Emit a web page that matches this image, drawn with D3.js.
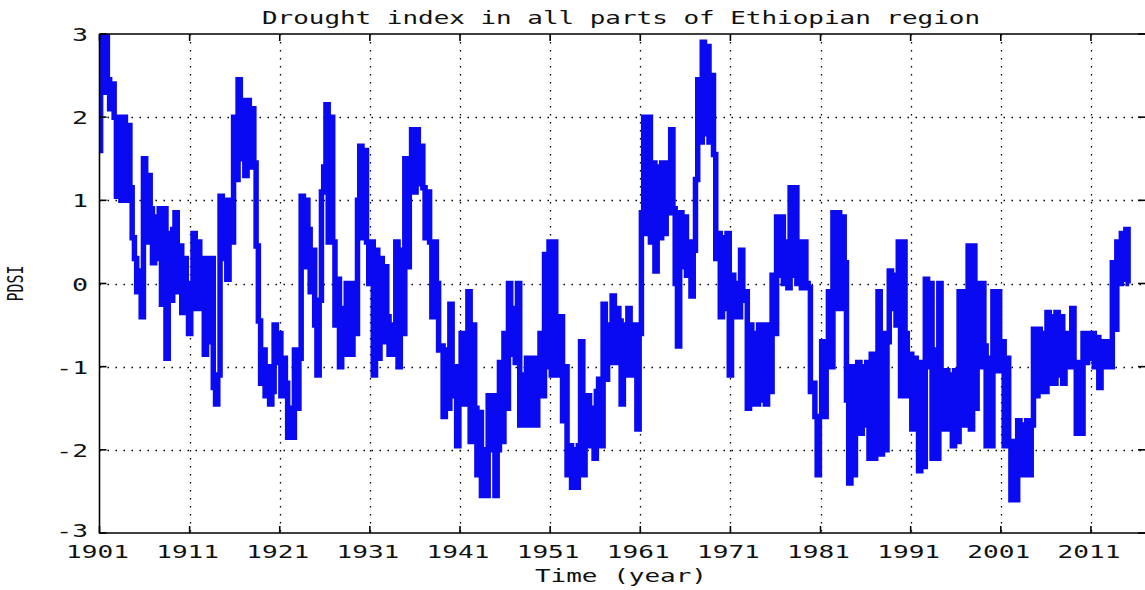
<!DOCTYPE html>
<html>
<head>
<meta charset="utf-8">
<script src="https://cdn.jsdelivr.net/npm/d3@7"></script>
<style>
  html, body { margin: 0; padding: 0; background: #ffffff; }
  svg { display: block; }
  text { font-family: "DejaVu Sans Mono", "Liberation Mono", monospace; fill: #111; }
</style>
</head>
<body>
<svg id="chart" width="1145" height="590"></svg>
<script>
// Quarterly Palmer Drought Severity Index, starting 1901
const startYear = 1901;
const stepsPerYear = 4;
const pdsi = [
  1.6, 3.1, 2.3, 3.1,      // 1901
  2.45, 2.1, 2.4, 2.0,     // 1902
  1.05, 2.0, 1.0, 2.0,     // 1903
  1.0, 1.9, 1.15, 0.55,    // 1904
  0.3, -0.1, 0.15, -0.4,   // 1905
  1.5, 0.5, 1.3, 0.9,      // 1906
  0.25, 0.8, 0.3, 0.9,     // 1907
  -0.25, 0.9, -0.9, 0.6,   // 1908
  -0.2, 0.65, 0.85, -0.1,  // 1909
  0.45, -0.35, 0.3, 0.0,   // 1910
  -0.6, 0.0, 0.6, -0.3,    // 1911
  0.5, -0.3, 0.3, -0.85,   // 1912
  0.3, -0.7, 0.3, -1.25,   // 1913
  -1.45, -1.1, 1.05, 0.3,  // 1914
  1.0, 0.05, 1.0, 0.5,     // 1915
  2.0, 1.25, 2.45, 1.5,    // 1916
  2.2, 1.3, 2.2, 1.4,      // 1917
  2.1, 1.45, 0.45, -0.45,  // 1918
  -1.2, -0.8, -1.35, -1.0, // 1919
  -1.45, -1.3, -0.5, -0.95,// 1920
  -0.6, -1.35, -0.9, -1.2, // 1921
  -1.85, -1.5, -1.85, -0.8,// 1922
  -1.5, -0.9, 1.05, 0.2,   // 1923
  1.0, 0.65, -0.1, 0.4,    // 1924
  -0.5, -1.1, -0.2, 1.1,   // 1925
  1.4, 2.15, 0.5, 2.0,     // 1926
  0.5, -0.5, 0.05, -1.0,   // 1927
  -0.3, -0.85, 0.0, -0.7,  // 1928
  -0.85, 0.0, -0.6, 1.0,   // 1929
  1.65, 0.55, 1.6, 0.5,    // 1930
  0.0, 0.5, -1.1, 0.4,     // 1931
  -0.9, 0.3, -0.7, 0.2,    // 1932
  -0.4, -0.85, -0.5, -0.85,// 1933
  0.5, -1.0, 0.4, -0.6,    // 1934
  1.5, 0.2, 1.3, 1.85,     // 1935
  1.1, 1.85, 1.2, 1.65,    // 1936
  1.15, 0.55, 1.1, 0.5,    // 1937
  -0.4, 0.5, 0.0, -0.8,    // 1938
  -0.75, -1.6, -0.8, -1.5, // 1939
  -0.25, -1.35, -1.0, -1.95, // 1940
  -1.0, -0.6, -1.45, -0.8, // 1941
  -0.1, -1.9, -0.5, -1.5,  // 1942
  -2.3, -1.55, -2.55, -2.0,// 1943
  -2.55, -1.35, -2.0, -1.35, // 1944
  -2.55, -2.0, -0.95, -1.9,// 1945
  -0.6, -1.5, 0.0, -0.85,  // 1946
  -0.3, -0.95, 0.0, -1.7,  // 1947
  -1.1, -1.7, -0.9, -1.3,  // 1948
  -1.7, -0.9, -1.7, -1.0,  // 1949
  -0.6, -1.35, 0.35, -1.0, // 1950
  0.5, -1.1, 0.5, -0.5,    // 1951
  -1.1, -0.4, -1.65, -1.0, // 1952
  -2.3, -1.95, -2.45, -2.0,// 1953
  -2.45, -1.95, -0.7, -2.3,// 1954
  -1.9, -1.35, -1.95, -1.5,// 1955
  -2.1, -1.3, -1.15, -1.95,// 1956
  -0.25, -1.15, -0.5, -0.95, // 1957
  -0.15, -0.95, -0.3, -0.45, // 1958
  -1.45, -0.5, -1.1, -0.3, // 1959
  -0.7, -1.1, -0.5, -1.75, // 1960
  -0.6, 0.85, 2.0, 0.6,    // 1961
  2.0, 0.5, 1.45, 0.15,    // 1962
  1.4, 0.55, 1.45, 0.6,    // 1963
  1.45, 0.85, 1.85, 0.9,   // 1964
  0.0, -0.75, 0.85, 0.2,   // 1965
  0.8, 0.1, 0.5, -0.15,    // 1966
  0.4, 1.25, 2.45, 1.7,    // 1967
  2.9, 1.8, 2.85, 1.7,     // 1968
  2.5, 1.55, 0.3, 0.6,     // 1969
  -0.4, 0.55, -0.3, 0.6,   // 1970
  -1.1, 0.1, -0.4, 0.0,    // 1971
  -0.4, 0.4, -0.2, -0.1,   // 1972
  -1.5, -0.5, -1.45, -0.6, // 1973
  -1.45, -0.5, -1.4, -0.5, // 1974
  -1.45, -0.5, -1.3, 0.1,  // 1975
  -0.6, 0.8, 0.1, 0.8,     // 1976
  0.0, 0.5, -0.05, 1.15,   // 1977
  0.1, 1.15, 0.0, 0.5,     // 1978
  -0.05, 0.5, 0.0, -0.05,  // 1979
  -1.3, -1.2, -1.6, -2.3,  // 1980
  -1.6, -0.7, -1.6, -0.8,  // 1981
  -0.1, -1.0, 0.85, -0.3,  // 1982
  0.85, -0.3, 0.8, 0.25,   // 1983
  -1.4, -2.4, -1.0, -2.3,  // 1984
  -1.8, -0.95, -1.8, -1.0, // 1985
  -1.7, -0.95, -2.1, -0.85,// 1986
  -2.1, -0.9, -0.1, -2.05, // 1987
  -0.6, -2.0, -0.7, 0.15,  // 1988
  -0.3, 0.1, -0.5, 0.5,    // 1989
  -1.35, 0.5, -0.6, -1.35, // 1990
  -0.85, -1.75, -0.9, -1.6,// 1991
  -2.25, -0.95, -2.2, 0.05,// 1992
  -1.0, 0.0, -2.1, -0.8,   // 1993
  -2.1, 0.0, -1.05, -1.75, // 1994
  -1.05, -1.75, -1.1, -1.95, // 1995
  -1.05, -1.9, -0.1, -1.7, // 1996
  -0.1, -1.7, 0.45, -1.75, // 1997
  0.45, -1.5, 0.0, -1.0,   // 1998
  0.0, -0.75, -1.95, -0.9, // 1999
  -1.95, -0.1, -1.05, -0.1,// 2000
  -1.05, -0.7, -1.95, -0.9,// 2001
  -1.95, -2.6, -1.9, -2.6, // 2002
  -1.65, -2.3, -1.7, -2.3, // 2003
  -1.65, -2.3, -1.7, -0.55,// 2004
  -1.35, -0.55, -1.3, -0.6,// 2005
  -1.3, -0.35, -1.2, -0.4, // 2006
  -1.2, -0.35, -1.1, -0.4, // 2007
  -1.2, -0.8, -0.6, -1.0,  // 2008
  -0.3, -1.0, -1.8, -0.95, // 2009
  -1.8, -0.6, -0.95, -0.6, // 2010
  -0.9, -0.6, -1.0, -0.65, // 2011
  -1.25, -0.8, -0.7, -1.0, // 2012
  -0.7, -1.0, 0.25, -0.55, // 2013
  0.5, 0.0, 0.6, 0.05,     // 2014
  0.65, 0.0                // 2015
];

const xTickYears = [1901, 1911, 1921, 1931, 1941, 1951, 1961, 1971, 1981, 1991, 2001, 2011];
const yTickValues = [-3, -2, -1, 0, 1, 2, 3];
const titleText = "Drought index in all parts of Ethiopian region";
const xLabelText = "Time (year)";
const yLabelText = "PDSI";

const svg = d3.select("#chart");
const plotLeft = 99.5, plotRight = 1145, plotTop = 34, plotBottom = 533;
const charW = 15.6;

const x = d3.scaleLinear().domain([1901, 2017]).range([plotLeft, plotRight]);
const y = d3.scaleLinear().domain([-3, 3]).range([plotBottom, plotTop]);

// plot area
svg.append("rect")
  .attr("x", plotLeft).attr("y", plotTop)
  .attr("width", plotRight - plotLeft).attr("height", plotBottom - plotTop)
  .attr("fill", "#ffffff");

svg.append("defs").append("clipPath").attr("id", "plotClip")
  .append("rect")
  .attr("x", plotLeft).attr("y", plotTop)
  .attr("width", plotRight - plotLeft).attr("height", plotBottom - plotTop);

// dotted grid
const grid = svg.append("g").attr("stroke", "#000").attr("stroke-width", 1.3)
  .attr("stroke-dasharray", "1.5,6.5");
grid.selectAll("line.v")
  .data(xTickYears.filter(d => d !== 1901))
  .join("line")
  .attr("class", "v")
  .attr("x1", d => Math.round(x(d)) + 0.5).attr("x2", d => Math.round(x(d)) + 0.5)
  .attr("y1", plotTop).attr("y2", plotBottom);
grid.selectAll("line.h")
  .data(yTickValues.filter(d => d > -3 && d < 3))
  .join("line")
  .attr("class", "h")
  .attr("x1", plotLeft).attr("x2", plotRight)
  .attr("y1", d => Math.round(y(d)) + 0.5).attr("y2", d => Math.round(y(d)) + 0.5);

// series
const line = d3.line()
  .x((d, i) => x(startYear + i / stepsPerYear))
  .y(d => y(d))
  .curve(d3.curveStep);

svg.append("path")
  .datum(pdsi)
  .attr("clip-path", "url(#plotClip)")
  .attr("fill", "none")
  .attr("stroke", "#0a0af2")
  .attr("stroke-width", 5.5)
  .attr("stroke-linejoin", "miter")
  .attr("d", line);

// axes box and inward ticks
const axisG = svg.append("g").attr("stroke", "#000").attr("fill", "none");
axisG.append("path")
  .attr("stroke-width", 1.6)
  .attr("d", `M${plotLeft},${plotTop}H${plotRight}M${plotLeft},${plotTop}V${plotBottom}H${plotRight}`);
axisG.selectAll("line.xt")
  .data(xTickYears)
  .join("line")
  .attr("stroke-width", 1.6)
  .attr("x1", d => x(d)).attr("x2", d => x(d))
  .attr("y1", plotBottom).attr("y2", plotBottom - 7);
axisG.selectAll("line.xtt")
  .data(xTickYears)
  .join("line")
  .attr("stroke-width", 1.6)
  .attr("x1", d => x(d)).attr("x2", d => x(d))
  .attr("y1", plotTop).attr("y2", plotTop + 7);
axisG.selectAll("line.yt")
  .data(yTickValues)
  .join("line")
  .attr("stroke-width", 1.6)
  .attr("x1", plotLeft).attr("x2", plotLeft + 7)
  .attr("y1", d => y(d)).attr("y2", d => y(d));
axisG.selectAll("line.ytr")
  .data(yTickValues)
  .join("line")
  .attr("stroke-width", 1.6)
  .attr("x1", plotRight - 7).attr("x2", plotRight)
  .attr("y1", d => y(d)).attr("y2", d => y(d));

// stretched monospace labels
function label(g, str, xPos, yPos, anchor) {
  return g.append("text")
    .attr("x", xPos).attr("y", yPos)
    .attr("text-anchor", anchor)
    .attr("font-size", 18)
    .attr("textLength", charW * str.length + 0.5)
    .attr("lengthAdjust", "spacingAndGlyphs")
    .text(str);
}

const labels = svg.append("g");
xTickYears.forEach(d => label(labels, String(d), x(d) - 2, 558, "middle"));
// the lowest value label sits a little higher so it clears the year labels
yTickValues.forEach(d => label(labels, String(d), 88, y(d) + (d === -3 ? 4 : 7), "end"));
label(labels, titleText, 621, 24, "middle");
label(labels, xLabelText, 621, 582, "middle");

svg.append("text")
  .attr("transform", `translate(23,${y(0)}) rotate(-90)`)
  .attr("text-anchor", "middle")
  .attr("font-size", 22)
  .attr("textLength", 36)
  .attr("lengthAdjust", "spacingAndGlyphs")
  .text(yLabelText);
</script>
</body>
</html>
